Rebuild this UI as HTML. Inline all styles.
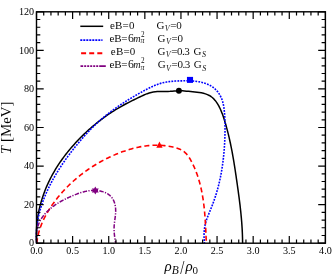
<!DOCTYPE html>
<html><head><meta charset="utf-8"><style>
html,body{margin:0;padding:0;background:#fff;overflow:hidden;}
svg{display:block;font-family:"Liberation Serif",serif;will-change:transform;}
text{fill:#000;stroke:#fff;stroke-width:0.03px;paint-order:fill stroke;}
text.tl{stroke:none;}
</style></head><body>
<svg width="332" height="275" viewBox="0 0 332 275">

<text transform="translate(36.50,254.1) scale(0.89,1)" text-anchor="middle" font-size="11.4" class="tl">0.0</text>
<text transform="translate(72.61,254.1) scale(0.89,1)" text-anchor="middle" font-size="11.4" class="tl">0.5</text>
<text transform="translate(108.72,254.1) scale(0.89,1)" text-anchor="middle" font-size="11.4" class="tl">1.0</text>
<text transform="translate(144.84,254.1) scale(0.89,1)" text-anchor="middle" font-size="11.4" class="tl">1.5</text>
<text transform="translate(180.95,254.1) scale(0.89,1)" text-anchor="middle" font-size="11.4" class="tl">2.0</text>
<text transform="translate(217.06,254.1) scale(0.89,1)" text-anchor="middle" font-size="11.4" class="tl">2.5</text>
<text transform="translate(253.17,254.1) scale(0.89,1)" text-anchor="middle" font-size="11.4" class="tl">3.0</text>
<text transform="translate(289.29,254.1) scale(0.89,1)" text-anchor="middle" font-size="11.4" class="tl">3.5</text>
<text transform="translate(325.40,254.1) scale(0.89,1)" text-anchor="middle" font-size="11.4" class="tl">4.0</text>
<text transform="translate(34.1,246.40) scale(0.89,1)" text-anchor="end" font-size="11.4" class="tl">0</text>
<text transform="translate(34.1,207.83) scale(0.89,1)" text-anchor="end" font-size="11.4" class="tl">20</text>
<text transform="translate(34.1,169.27) scale(0.89,1)" text-anchor="end" font-size="11.4" class="tl">40</text>
<text transform="translate(34.1,130.70) scale(0.89,1)" text-anchor="end" font-size="11.4" class="tl">60</text>
<text transform="translate(34.1,92.13) scale(0.89,1)" text-anchor="end" font-size="11.4" class="tl">80</text>
<text transform="translate(34.1,53.57) scale(0.89,1)" text-anchor="end" font-size="11.4" class="tl">100</text>
<text transform="translate(34.1,15.00) scale(0.89,1)" text-anchor="end" font-size="11.4" class="tl">120</text>
<path d="M36.71 243.21 L36.57 241.11 L36.46 239.02 L36.40 236.92 L36.38 234.83 L36.39 232.73 L36.45 230.64 L36.55 228.55 L36.68 226.47 L36.85 224.39 L37.06 222.31 L37.31 220.24 L37.59 218.17 L37.91 216.11 L38.27 214.05 L38.66 212.00 L39.08 209.96 L39.55 207.92 L40.04 205.89 L40.57 203.87 L41.13 201.86 L41.73 199.86 L42.36 197.87 L43.02 195.89 L43.71 193.92 L44.43 191.96 L45.19 190.01 L45.98 188.07 L46.79 186.15 L47.64 184.24 L48.51 182.34 L49.41 180.46 L50.34 178.59 L51.30 176.74 L52.29 174.90 L53.30 173.07 L54.34 171.27 L55.41 169.47 L56.50 167.69 L57.62 165.93 L58.76 164.18 L59.92 162.45 L61.11 160.73 L62.32 159.02 L63.55 157.34 L64.81 155.66 L66.08 154.01 L67.38 152.37 L68.69 150.74 L70.03 149.13 L71.39 147.54 L72.76 145.96 L74.15 144.40 L75.56 142.85 L76.98 141.32 L78.43 139.80 L79.88 138.30 L81.36 136.82 L82.85 135.36 L84.35 133.91 L85.87 132.47 L87.40 131.05 L88.95 129.65 L90.51 128.27 L92.08 126.91 L93.67 125.56 L95.27 124.23 L96.89 122.91 L98.53 121.62 L100.17 120.34 L101.83 119.08 L103.51 117.85 L105.20 116.63 L106.90 115.42 L108.62 114.24 L110.35 113.08 L112.10 111.94 L113.86 110.82 L115.63 109.72 L117.42 108.63 L119.22 107.57 L121.04 106.53 L122.87 105.51 L124.70 104.51 L126.55 103.52 L128.41 102.55 L130.28 101.60 L132.15 100.66 L134.03 99.73 L135.91 98.81 L137.80 97.90 L139.68 97.00 L141.57 96.11 L143.46 95.24 L145.36 94.42 L147.28 93.67 L149.22 93.00 L151.20 92.44 L153.21 92.00 L155.26 91.71 L157.34 91.53 L159.46 91.44 L161.58 91.41 L163.72 91.41 L165.86 91.42 L167.98 91.40 L170.10 91.32 L172.19 91.19 L174.26 91.04 L176.32 90.90 L178.36 90.81 L180.39 90.79 L182.41 90.85 L184.44 90.97 L186.47 91.13 L188.53 91.32 L190.61 91.53 L192.73 91.74 L194.89 91.96 L197.05 92.20 L199.22 92.49 L201.36 92.85 L203.45 93.30 L205.48 93.87 L207.43 94.58 L209.26 95.45 L210.98 96.50 L212.56 97.74 L214.02 99.14 L215.36 100.68 L216.59 102.35 L217.72 104.10 L218.77 105.93 L219.73 107.81 L220.61 109.72 L221.43 111.65 L222.20 113.61 L222.92 115.58 L223.59 117.57 L224.24 119.56 L224.86 121.56 L225.46 123.57 L226.04 125.57 L226.60 127.58 L227.14 129.60 L227.67 131.61 L228.18 133.63 L228.67 135.65 L229.15 137.68 L229.61 139.71 L230.06 141.74 L230.50 143.77 L230.92 145.81 L231.33 147.86 L231.73 149.90 L232.12 151.95 L232.50 154.00 L232.87 156.06 L233.23 158.12 L233.58 160.18 L233.92 162.24 L234.26 164.30 L234.59 166.37 L234.91 168.44 L235.23 170.51 L235.54 172.58 L235.85 174.65 L236.15 176.72 L236.46 178.79 L236.76 180.86 L237.05 182.93 L237.35 185.00 L237.64 187.07 L237.93 189.14 L238.22 191.21 L238.50 193.28 L238.78 195.35 L239.05 197.42 L239.32 199.49 L239.58 201.56 L239.83 203.63 L240.08 205.71 L240.31 207.78 L240.54 209.85 L240.76 211.93 L240.97 214.00 L241.17 216.08 L241.36 218.15 L241.54 220.23 L241.71 222.31 L241.86 224.40 L242.00 226.48 L242.13 228.56 L242.24 230.65 L242.34 232.74 L242.42 234.83 L242.49 236.93 L242.54 239.02 L242.57 241.12 L242.59 243.22" stroke="#000" stroke-width="1.5" fill="none" stroke-linejoin="round"/>
<path d="M36.72 243.24 L36.56 241.04 L36.45 238.85 L36.41 236.66 L36.42 234.49 L36.48 232.32 L36.59 230.15 L36.76 228.00 L36.98 225.85 L37.25 223.71 L37.57 221.59 L37.93 219.46 L38.34 217.35 L38.79 215.25 L39.29 213.16 L39.83 211.07 L40.40 209.00 L41.02 206.94 L41.68 204.88 L42.37 202.84 L43.10 200.81 L43.87 198.79 L44.66 196.78 L45.49 194.78 L46.35 192.79 L47.24 190.81 L48.16 188.85 L49.11 186.90 L50.08 184.96 L51.07 183.03 L52.09 181.12 L53.13 179.22 L54.20 177.33 L55.28 175.46 L56.38 173.60 L57.50 171.75 L58.64 169.91 L59.80 168.09 L60.98 166.28 L62.18 164.48 L63.39 162.69 L64.62 160.92 L65.87 159.15 L67.13 157.40 L68.40 155.66 L69.70 153.93 L71.00 152.21 L72.33 150.50 L73.66 148.80 L75.01 147.11 L76.37 145.43 L77.74 143.76 L79.13 142.11 L80.53 140.46 L81.94 138.82 L83.36 137.19 L84.80 135.58 L86.25 133.98 L87.72 132.40 L89.20 130.83 L90.70 129.28 L92.22 127.74 L93.75 126.23 L95.30 124.73 L96.88 123.25 L98.47 121.80 L100.08 120.37 L101.70 118.96 L103.35 117.57 L105.01 116.19 L106.69 114.84 L108.39 113.51 L110.10 112.20 L111.83 110.90 L113.57 109.63 L115.33 108.37 L117.10 107.13 L118.88 105.90 L120.67 104.69 L122.48 103.50 L124.29 102.32 L126.12 101.16 L127.96 100.01 L129.81 98.88 L131.66 97.76 L133.53 96.65 L135.40 95.56 L137.28 94.48 L139.16 93.41 L141.05 92.35 L142.95 91.30 L144.85 90.27 L146.76 89.25 L148.68 88.27 L150.61 87.32 L152.56 86.41 L154.53 85.56 L156.51 84.76 L158.52 84.03 L160.55 83.37 L162.61 82.80 L164.70 82.31 L166.82 81.92 L168.97 81.61 L171.13 81.36 L173.31 81.18 L175.49 81.05 L177.68 80.95 L179.86 80.89 L182.04 80.84 L184.20 80.81 L186.36 80.80 L188.51 80.83 L190.65 80.90 L192.79 81.03 L194.92 81.22 L197.05 81.49 L199.18 81.83 L201.32 82.28 L203.44 82.82 L205.54 83.48 L207.59 84.26 L209.57 85.17 L211.46 86.22 L213.23 87.43 L214.87 88.78 L216.39 90.27 L217.77 91.88 L219.02 93.60 L220.12 95.42 L221.08 97.33 L221.90 99.30 L222.58 101.34 L223.13 103.44 L223.58 105.57 L223.94 107.73 L224.21 109.91 L224.43 112.11 L224.60 114.30 L224.74 116.48 L224.85 118.65 L224.93 120.81 L224.99 122.97 L225.03 125.12 L225.05 127.26 L225.04 129.40 L225.02 131.55 L224.98 133.69 L224.92 135.83 L224.85 137.98 L224.77 140.14 L224.67 142.29 L224.55 144.44 L224.42 146.60 L224.26 148.76 L224.09 150.92 L223.91 153.08 L223.70 155.23 L223.48 157.39 L223.23 159.55 L222.97 161.70 L222.68 163.85 L222.38 166.00 L222.05 168.14 L221.71 170.28 L221.34 172.42 L220.95 174.55 L220.53 176.68 L220.09 178.80 L219.63 180.92 L219.15 183.03 L218.64 185.13 L218.10 187.22 L217.54 189.31 L216.95 191.39 L216.34 193.46 L215.70 195.52 L215.03 197.57 L214.34 199.61 L213.62 201.64 L212.88 203.66 L212.11 205.67 L211.32 207.68 L210.52 209.69 L209.70 211.69 L208.88 213.69 L208.06 215.69 L207.28 217.70 L206.55 219.72 L205.90 221.77 L205.36 223.84 L204.92 225.93 L204.57 228.05 L204.32 230.18 L204.16 232.33 L204.07 234.50 L204.06 236.67 L204.12 238.85 L204.24 241.04 L204.42 243.23" stroke="#0000ff" stroke-width="1.6" fill="none" stroke-dasharray="1.8 1.2" stroke-linejoin="round"/>
<path d="M36.76 243.19 L36.92 241.73 L37.12 240.28 L37.34 238.84 L37.60 237.40 L37.90 235.97 L38.22 234.55 L38.57 233.14 L38.96 231.74 L39.37 230.34 L39.81 228.96 L40.28 227.58 L40.78 226.21 L41.30 224.85 L41.84 223.50 L42.42 222.16 L43.01 220.82 L43.63 219.50 L44.27 218.18 L44.94 216.88 L45.62 215.58 L46.32 214.30 L47.05 213.02 L47.79 211.75 L48.55 210.50 L49.33 209.25 L50.13 208.01 L50.94 206.78 L51.76 205.57 L52.60 204.36 L53.46 203.16 L54.33 201.98 L55.20 200.80 L56.10 199.64 L57.00 198.48 L57.91 197.34 L58.84 196.20 L59.77 195.08 L60.72 193.97 L61.68 192.87 L62.65 191.78 L63.63 190.70 L64.62 189.63 L65.62 188.57 L66.64 187.52 L67.66 186.49 L68.69 185.46 L69.74 184.45 L70.79 183.44 L71.85 182.45 L72.93 181.47 L74.01 180.50 L75.10 179.54 L76.21 178.59 L77.32 177.65 L78.44 176.73 L79.57 175.81 L80.71 174.91 L81.86 174.02 L83.02 173.14 L84.19 172.27 L85.36 171.41 L86.55 170.56 L87.74 169.73 L88.94 168.90 L90.16 168.09 L91.37 167.29 L92.60 166.50 L93.84 165.72 L95.08 164.96 L96.33 164.20 L97.59 163.46 L98.86 162.73 L100.13 162.01 L101.42 161.30 L102.70 160.60 L104.00 159.92 L105.31 159.25 L106.62 158.58 L107.94 157.94 L109.26 157.30 L110.59 156.67 L111.93 156.06 L113.28 155.46 L114.63 154.87 L115.99 154.29 L117.35 153.73 L118.72 153.18 L120.10 152.65 L121.48 152.12 L122.87 151.62 L124.26 151.13 L125.66 150.65 L127.06 150.19 L128.46 149.75 L129.87 149.33 L131.29 148.92 L132.70 148.53 L134.12 148.17 L135.55 147.82 L136.97 147.49 L138.40 147.18 L139.84 146.89 L141.27 146.62 L142.71 146.37 L144.15 146.15 L145.59 145.95 L147.03 145.77 L148.47 145.61 L149.92 145.48 L151.36 145.38 L152.81 145.30 L154.25 145.24 L155.70 145.21 L157.15 145.21 L158.59 145.23 L160.04 145.29 L161.48 145.37 L162.93 145.47 L164.37 145.61 L165.81 145.78 L167.25 145.97 L168.69 146.20 L170.13 146.46 L171.56 146.75 L172.99 147.07 L174.42 147.42 L175.84 147.81 L177.25 148.24 L178.63 148.73 L179.98 149.29 L181.28 149.92 L182.53 150.63 L183.71 151.44 L184.83 152.34 L185.88 153.33 L186.86 154.40 L187.79 155.53 L188.65 156.72 L189.46 157.95 L190.23 159.22 L190.96 160.52 L191.65 161.84 L192.33 163.16 L192.98 164.50 L193.60 165.83 L194.21 167.18 L194.80 168.53 L195.36 169.88 L195.90 171.25 L196.43 172.61 L196.93 173.99 L197.41 175.36 L197.88 176.75 L198.32 178.14 L198.75 179.53 L199.16 180.93 L199.56 182.33 L199.94 183.74 L200.30 185.15 L200.64 186.56 L200.97 187.98 L201.29 189.40 L201.59 190.83 L201.87 192.26 L202.15 193.69 L202.41 195.12 L202.65 196.56 L202.89 198.00 L203.11 199.45 L203.32 200.89 L203.52 202.34 L203.71 203.79 L203.89 205.24 L204.05 206.70 L204.21 208.15 L204.36 209.61 L204.51 211.07 L204.64 212.53 L204.76 213.99 L204.88 215.45 L204.99 216.92 L205.10 218.38 L205.20 219.84 L205.29 221.30 L205.38 222.77 L205.46 224.23 L205.54 225.70 L205.62 227.16 L205.69 228.62 L205.76 230.08 L205.83 231.54 L205.89 233.00 L205.95 234.46 L206.02 235.92 L206.08 237.37 L206.14 238.83 L206.20 240.28 L206.26 241.73 L206.32 243.18" stroke="#ff0000" stroke-width="1.6" fill="none" stroke-dasharray="5 3.1" stroke-linejoin="round"/>
<path d="M36.69 243.22 L36.62 242.44 L36.56 241.67 L36.51 240.89 L36.47 240.11 L36.43 239.33 L36.41 238.56 L36.40 237.78 L36.41 237.00 L36.42 236.23 L36.44 235.45 L36.48 234.68 L36.53 233.91 L36.60 233.14 L36.68 232.37 L36.77 231.61 L36.88 230.85 L37.00 230.10 L37.14 229.35 L37.30 228.60 L37.47 227.86 L37.65 227.12 L37.86 226.39 L38.08 225.66 L38.32 224.94 L38.58 224.23 L38.85 223.52 L39.15 222.83 L39.46 222.13 L39.79 221.45 L40.14 220.77 L40.51 220.10 L40.90 219.44 L41.30 218.79 L41.72 218.14 L42.15 217.50 L42.59 216.87 L43.05 216.25 L43.53 215.64 L44.01 215.03 L44.51 214.43 L45.02 213.85 L45.54 213.26 L46.07 212.69 L46.61 212.13 L47.16 211.57 L47.72 211.03 L48.28 210.49 L48.85 209.96 L49.43 209.44 L50.02 208.93 L50.61 208.43 L51.20 207.94 L51.80 207.46 L52.41 206.99 L53.02 206.52 L53.63 206.06 L54.25 205.61 L54.87 205.17 L55.50 204.74 L56.13 204.31 L56.77 203.89 L57.41 203.48 L58.06 203.08 L58.71 202.68 L59.36 202.29 L60.02 201.90 L60.68 201.52 L61.34 201.15 L62.01 200.78 L62.68 200.42 L63.36 200.06 L64.03 199.71 L64.72 199.37 L65.40 199.03 L66.09 198.69 L66.78 198.36 L67.47 198.03 L68.17 197.70 L68.87 197.38 L69.57 197.07 L70.28 196.75 L70.98 196.44 L71.69 196.14 L72.41 195.83 L73.12 195.53 L73.84 195.23 L74.55 194.94 L75.28 194.65 L76.00 194.36 L76.73 194.09 L77.45 193.81 L78.18 193.55 L78.92 193.29 L79.65 193.04 L80.39 192.80 L81.13 192.56 L81.87 192.34 L82.61 192.12 L83.36 191.92 L84.11 191.72 L84.86 191.54 L85.61 191.37 L86.37 191.21 L87.12 191.06 L87.88 190.93 L88.65 190.81 L89.41 190.71 L90.18 190.62 L90.94 190.55 L91.72 190.49 L92.49 190.45 L93.26 190.42 L94.04 190.41 L94.82 190.43 L95.60 190.46 L96.39 190.50 L97.17 190.57 L97.95 190.66 L98.73 190.77 L99.51 190.89 L100.28 191.04 L101.05 191.21 L101.81 191.40 L102.56 191.61 L103.30 191.85 L104.03 192.10 L104.74 192.38 L105.45 192.68 L106.13 193.00 L106.80 193.35 L107.46 193.72 L108.09 194.12 L108.70 194.54 L109.29 194.98 L109.86 195.45 L110.40 195.95 L110.91 196.47 L111.40 197.02 L111.86 197.59 L112.30 198.19 L112.70 198.81 L113.08 199.45 L113.43 200.12 L113.75 200.80 L114.04 201.50 L114.31 202.21 L114.56 202.94 L114.78 203.68 L114.97 204.43 L115.14 205.19 L115.28 205.96 L115.41 206.73 L115.50 207.51 L115.58 208.29 L115.63 209.07 L115.66 209.85 L115.67 210.63 L115.67 211.40 L115.64 212.18 L115.60 212.96 L115.55 213.74 L115.48 214.51 L115.41 215.29 L115.32 216.06 L115.23 216.83 L115.13 217.60 L115.03 218.38 L114.93 219.15 L114.83 219.91 L114.72 220.68 L114.62 221.45 L114.53 222.21 L114.43 222.98 L114.35 223.74 L114.28 224.50 L114.21 225.26 L114.16 226.02 L114.12 226.78 L114.10 227.53 L114.08 228.29 L114.08 229.04 L114.09 229.79 L114.11 230.55 L114.14 231.30 L114.19 232.06 L114.24 232.81 L114.30 233.57 L114.37 234.32 L114.45 235.08 L114.54 235.84 L114.63 236.60 L114.74 237.37 L114.85 238.14 L114.97 238.91 L115.10 239.68 L115.23 240.45 L115.37 241.23 L115.51 242.02 L115.67 242.80" stroke="#800080" stroke-width="1.5" fill="none" stroke-dasharray="4.4 1.4 1.2 1.4" stroke-linejoin="round"/>
<rect x="36.5" y="11.8" width="288.9" height="231.39999999999998" fill="none" stroke="#000" stroke-width="1.4"/>
<path d="M36.50 243.2 v-7.2 M36.50 11.8 v7.2 M43.72 243.2 v-3.8 M43.72 11.8 v3.8 M50.95 243.2 v-3.8 M50.95 11.8 v3.8 M58.17 243.2 v-3.8 M58.17 11.8 v3.8 M65.39 243.2 v-3.8 M65.39 11.8 v3.8 M72.61 243.2 v-7.2 M72.61 11.8 v7.2 M79.83 243.2 v-3.8 M79.83 11.8 v3.8 M87.06 243.2 v-3.8 M87.06 11.8 v3.8 M94.28 243.2 v-3.8 M94.28 11.8 v3.8 M101.50 243.2 v-3.8 M101.50 11.8 v3.8 M108.72 243.2 v-7.2 M108.72 11.8 v7.2 M115.95 243.2 v-3.8 M115.95 11.8 v3.8 M123.17 243.2 v-3.8 M123.17 11.8 v3.8 M130.39 243.2 v-3.8 M130.39 11.8 v3.8 M137.61 243.2 v-3.8 M137.61 11.8 v3.8 M144.84 243.2 v-7.2 M144.84 11.8 v7.2 M152.06 243.2 v-3.8 M152.06 11.8 v3.8 M159.28 243.2 v-3.8 M159.28 11.8 v3.8 M166.50 243.2 v-3.8 M166.50 11.8 v3.8 M173.73 243.2 v-3.8 M173.73 11.8 v3.8 M180.95 243.2 v-7.2 M180.95 11.8 v7.2 M188.17 243.2 v-3.8 M188.17 11.8 v3.8 M195.40 243.2 v-3.8 M195.40 11.8 v3.8 M202.62 243.2 v-3.8 M202.62 11.8 v3.8 M209.84 243.2 v-3.8 M209.84 11.8 v3.8 M217.06 243.2 v-7.2 M217.06 11.8 v7.2 M224.28 243.2 v-3.8 M224.28 11.8 v3.8 M231.51 243.2 v-3.8 M231.51 11.8 v3.8 M238.73 243.2 v-3.8 M238.73 11.8 v3.8 M245.95 243.2 v-3.8 M245.95 11.8 v3.8 M253.17 243.2 v-7.2 M253.17 11.8 v7.2 M260.40 243.2 v-3.8 M260.40 11.8 v3.8 M267.62 243.2 v-3.8 M267.62 11.8 v3.8 M274.84 243.2 v-3.8 M274.84 11.8 v3.8 M282.06 243.2 v-3.8 M282.06 11.8 v3.8 M289.29 243.2 v-7.2 M289.29 11.8 v7.2 M296.51 243.2 v-3.8 M296.51 11.8 v3.8 M303.73 243.2 v-3.8 M303.73 11.8 v3.8 M310.95 243.2 v-3.8 M310.95 11.8 v3.8 M318.18 243.2 v-3.8 M318.18 11.8 v3.8 M325.40 243.2 v-7.2 M325.40 11.8 v7.2 M36.5 243.20 h7.2 M325.4 243.20 h-7.2 M36.5 235.49 h3.8 M325.4 235.49 h-3.8 M36.5 227.77 h3.8 M325.4 227.77 h-3.8 M36.5 220.06 h3.8 M325.4 220.06 h-3.8 M36.5 212.35 h3.8 M325.4 212.35 h-3.8 M36.5 204.63 h7.2 M325.4 204.63 h-7.2 M36.5 196.92 h3.8 M325.4 196.92 h-3.8 M36.5 189.21 h3.8 M325.4 189.21 h-3.8 M36.5 181.49 h3.8 M325.4 181.49 h-3.8 M36.5 173.78 h3.8 M325.4 173.78 h-3.8 M36.5 166.07 h7.2 M325.4 166.07 h-7.2 M36.5 158.35 h3.8 M325.4 158.35 h-3.8 M36.5 150.64 h3.8 M325.4 150.64 h-3.8 M36.5 142.93 h3.8 M325.4 142.93 h-3.8 M36.5 135.21 h3.8 M325.4 135.21 h-3.8 M36.5 127.50 h7.2 M325.4 127.50 h-7.2 M36.5 119.79 h3.8 M325.4 119.79 h-3.8 M36.5 112.07 h3.8 M325.4 112.07 h-3.8 M36.5 104.36 h3.8 M325.4 104.36 h-3.8 M36.5 96.65 h3.8 M325.4 96.65 h-3.8 M36.5 88.93 h7.2 M325.4 88.93 h-7.2 M36.5 81.22 h3.8 M325.4 81.22 h-3.8 M36.5 73.51 h3.8 M325.4 73.51 h-3.8 M36.5 65.79 h3.8 M325.4 65.79 h-3.8 M36.5 58.08 h3.8 M325.4 58.08 h-3.8 M36.5 50.37 h7.2 M325.4 50.37 h-7.2 M36.5 42.65 h3.8 M325.4 42.65 h-3.8 M36.5 34.94 h3.8 M325.4 34.94 h-3.8 M36.5 27.23 h3.8 M325.4 27.23 h-3.8 M36.5 19.51 h3.8 M325.4 19.51 h-3.8 M36.5 11.80 h7.2 M325.4 11.80 h-7.2" stroke="#000" stroke-width="1.2" fill="none"/>
<circle cx="178.9" cy="90.7" r="2.95" fill="#000"/>
<rect x="186.95" y="76.9" width="6.1" height="6.0" fill="#0000ff"/>
<path d="M156.3 147.7 L162.6 147.7 L159.45 141.5 Z" fill="#ff0000"/>
<path d="M95.30 186.40 L96.45 188.41 L98.76 188.40 L97.60 190.40 L98.76 192.40 L96.45 192.39 L95.30 194.40 L94.15 192.39 L91.84 192.40 L93.00 190.40 L91.84 188.40 L94.15 188.41Z" fill="#800080"/>
<path d="M80.3 26.3 H103.2" stroke="#000" stroke-width="1.5"/>
<path d="M80.3 40.1 H102.5" stroke="#0000ff" stroke-width="1.9" stroke-dasharray="2 1"/>
<path d="M81.1 53.25 H102.3" stroke="#ff0000" stroke-width="1.8" stroke-dasharray="5 3.1"/>
<path d="M80.5 66.1 H105.8" stroke="#800080" stroke-width="1.8" stroke-dasharray="2.7 1 2 1 2 1 2 1 2 1 2 1 6.6"/>
<text x="109.9" y="28.5" font-size="11" letter-spacing="0.2">eB=0</text>
<text y="41.9" font-size="11"><tspan x="109.6" letter-spacing="-0.3">eB=</tspan><tspan x="127.9" font-size="11.8">6</tspan><tspan x="133.3" font-size="10.2" font-style="italic">m</tspan><tspan x="140.9" y="36.699999999999996" font-size="7.2">2</tspan><tspan x="140.6" y="43.3" font-size="7.8" font-style="italic">π</tspan></text>
<text x="110.8" y="55.0" font-size="11" letter-spacing="0.2">eB=0</text>
<text y="68.39999999999999" font-size="11"><tspan x="109.6" letter-spacing="-0.3">eB=</tspan><tspan x="127.9" font-size="11.8">6</tspan><tspan x="133.3" font-size="10.2" font-style="italic">m</tspan><tspan x="140.9" y="63.19999999999999" font-size="7.2">2</tspan><tspan x="140.6" y="69.8" font-size="7.8" font-style="italic">π</tspan></text>
<text y="28.6" font-size="11"><tspan x="156.4">G</tspan><tspan x="164.70000000000002" y="30.900000000000002" font-size="8" font-style="italic">V</tspan><tspan x="170.20000000000002" y="28.6">=</tspan><tspan x="176.20000000000002">0</tspan></text>
<text y="41.9" font-size="11"><tspan x="157.6">G</tspan><tspan x="165.9" y="44.199999999999996" font-size="8" font-style="italic">V</tspan><tspan x="171.4" y="41.9">=</tspan><tspan x="177.4">0</tspan></text>
<text y="55.099999999999994" font-size="11"><tspan x="157.4">G</tspan><tspan x="165.70000000000002" y="57.39999999999999" font-size="8" font-style="italic">V</tspan><tspan x="171.20000000000002" y="55.099999999999994">=</tspan><tspan x="177.0" letter-spacing="-0.5">0.3</tspan><tspan x="193.4">G</tspan><tspan x="201.9" y="57.39999999999999" font-size="8" font-style="italic">S</tspan></text>
<text y="68.39999999999999" font-size="11"><tspan x="157.8">G</tspan><tspan x="166.10000000000002" y="70.69999999999999" font-size="8" font-style="italic">V</tspan><tspan x="171.60000000000002" y="68.39999999999999">=</tspan><tspan x="177.4" letter-spacing="-0.5">0.3</tspan><tspan x="193.8">G</tspan><tspan x="202.3" y="70.69999999999999" font-size="8" font-style="italic">S</tspan></text>
<text transform="translate(11.3,127.8) rotate(-90) scale(1.06,1)" text-anchor="middle" font-size="14"><tspan font-style="italic">T</tspan> [MeV]</text>
<text y="270.5" font-size="15"><tspan x="164.6" font-style="italic">ρ</tspan><tspan x="171.7" y="273.8" font-size="11.5" font-style="italic">B</tspan><tspan x="185.6" y="270.5" font-style="italic">ρ</tspan><tspan x="192.6" y="273.8" font-size="11">0</tspan></text>
<text transform="translate(180.3,274.1) scale(0.75,1)" font-size="19.8">/</text>
</svg>
</body></html>
